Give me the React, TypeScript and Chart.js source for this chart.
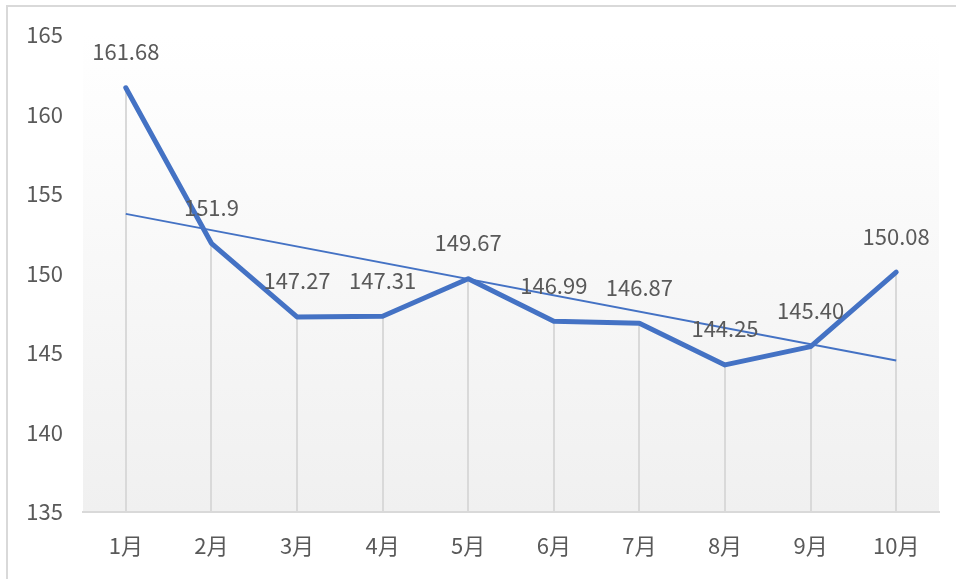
import React, { useEffect, useRef } from "react";
import { Chart, registerables } from "chart.js";

Chart.register(...registerables);

const categories = ["1月", "2月", "3月", "4月", "5月", "6月", "7月", "8月", "9月", "10月"];
const values = [161.68, 151.9, 147.27, 147.31, 149.67, 146.99, 146.87, 144.25, 145.4, 150.08];
const valueLabels = ["161.68", "151.9", "147.27", "147.31", "149.67", "146.99", "146.87", "144.25", "145.40", "150.08"];
const trendValues = [153.75, null, null, null, null, null, null, null, null, 144.53];
const yMin = 135;
const yMax = 165;
const yStep = 5;

const FONT = '"Noto Sans CJK JP", "Noto Sans", sans-serif';
const TEXT = "#595959";
const BLUE = "#4472C4";
const GRIDC = "#d9d9d9";

export default function App() {
  const ref = useRef<HTMLCanvasElement | null>(null);

  useEffect(() => {
    document.body.style.margin = "0";
    const canvas = ref.current;
    if (!canvas) return;

    const bgPlugin = {
      id: "bgPlugin",
      beforeDraw(chart: any) {
        const { ctx, chartArea } = chart;
        ctx.save();
        ctx.fillStyle = "#ffffff";
        ctx.fillRect(0, 0, chart.width, chart.height);
        const g = ctx.createLinearGradient(0, chartArea.top, 0, chartArea.bottom);
        g.addColorStop(0, "#ffffff");
        g.addColorStop(1, "#f0f0f0");
        ctx.fillStyle = g;
        ctx.fillRect(chartArea.left, chartArea.top, chartArea.right - chartArea.left, chartArea.bottom - chartArea.top);
        ctx.strokeStyle = GRIDC;
        ctx.lineWidth = 2;
        ctx.strokeRect(7, 6, 1200, 1200);
        ctx.restore();
      },
    };

    const dropPlugin = {
      id: "dropPlugin",
      beforeDatasetsDraw(chart: any) {
        const { ctx, chartArea } = chart;
        const meta = chart.getDatasetMeta(1);
        ctx.save();
        ctx.strokeStyle = GRIDC;
        ctx.lineWidth = 2;
        meta.data.forEach((p: any) => {
          ctx.beginPath();
          ctx.moveTo(Math.round(p.x), p.y);
          ctx.lineTo(Math.round(p.x), chartArea.bottom);
          ctx.stroke();
        });
        ctx.restore();
      },
    };

    const labelPlugin = {
      id: "labelPlugin",
      afterDatasetsDraw(chart: any) {
        const { ctx } = chart;
        const meta = chart.getDatasetMeta(1);
        ctx.save();
        ctx.fillStyle = TEXT;
        ctx.font = `22px ${FONT}`;
        ctx.textAlign = "center";
        ctx.textBaseline = "middle";
        meta.data.forEach((p: any, i: number) => {
          ctx.fillText(valueLabels[i], p.x, p.y - 36);
        });
        ctx.restore();
      },
    };

    const chart = new Chart(canvas, {
      type: "line",
      data: {
        labels: categories,
        datasets: [
          {
            label: "trend",
            data: trendValues,
            borderColor: BLUE,
            borderWidth: 2,
            pointRadius: 0,
            spanGaps: true,
            tension: 0,
            order: 0,
          },
          {
            label: "values",
            data: values,
            borderColor: BLUE,
            borderWidth: 5,
            pointRadius: 0,
            tension: 0,
            borderJoinStyle: "round",
            borderCapStyle: "round",
            order: 1,
          },
        ],
      },
      options: {
        responsive: false,
        animation: false,
        layout: { padding: { left: 0, right: 17, top: 35, bottom: 0 } },
        plugins: {
          legend: { display: false },
          tooltip: { enabled: false },
        },
        scales: {
          x: {
            offset: true,
            grid: { display: false, drawTicks: false },
            border: { display: true, color: GRIDC, width: 2 },
            ticks: { color: TEXT, font: { family: FONT, size: 22 }, padding: 20, maxRotation: 0 },
            afterFit(scale: any) {
              scale.height = 67;
            },
          },
          y: {
            min: yMin,
            max: yMax,
            grid: { display: false, drawTicks: false },
            border: { display: false },
            ticks: { stepSize: yStep, color: TEXT, font: { family: FONT, size: 22 }, padding: 20 },
            afterFit(scale: any) {
              scale.width = 83;
            },
          },
        },
      },
      plugins: [bgPlugin, dropPlugin, labelPlugin],
    });

    return () => chart.destroy();
  }, []);

  return <canvas ref={ref} width={956} height={579} style={{ display: "block", width: 956, height: 579 }} />;
}
